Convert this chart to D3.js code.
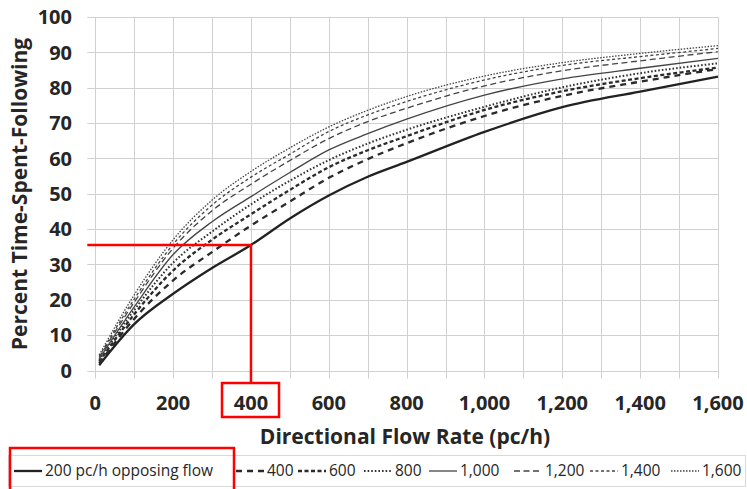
<!DOCTYPE html>
<html>
<head>
<meta charset="utf-8">
<script src="https://cdn.jsdelivr.net/npm/d3@7"></script>
<style>
  body { margin: 0; background: #fff; }
  svg { display: block; font-family: "Open Sans", sans-serif; }
  .tick-label { font-weight: 700; font-size: 20px; fill: #262626; }
  .axis-title { font-weight: 700; font-size: 21px; fill: #262626; }
  .legend-label { font-size: 15.5px; fill: #262626; }
</style>
</head>
<body>
<div id="chart"></div>
<script>
// directional flow rate (pc/h) where values were read
const flow = [10, 100, 200, 300, 400, 500, 600, 700, 800, 1000, 1200, 1400, 1600];

// percent time-spent-following, one array per opposing flow
const ptsf200  = [1.5, 13.1, 21.7, 29.0, 35.5, 43.0, 49.5, 54.8, 59.0, 67.5, 74.5, 78.9, 83.1];
const ptsf400  = [2.0, 14.6, 25.5, 33.5, 41.0, 47.8, 54.5, 59.8, 64.3, 72.0, 77.7, 81.7, 85.3];
const ptsf600  = [2.5, 15.9, 28.3, 37.0, 44.2, 51.1, 57.5, 62.3, 66.3, 73.7, 79.0, 82.7, 85.7];
const ptsf800  = [3.0, 17.1, 30.5, 39.3, 47.0, 53.7, 59.5, 64.2, 68.1, 74.6, 80.1, 84.1, 86.9];
const ptsf1000 = [3.3, 18.0, 32.8, 42.1, 49.2, 56.0, 62.4, 67.0, 71.1, 77.9, 82.5, 85.5, 88.3];
const ptsf1200 = [3.7, 19.3, 34.6, 45.2, 52.7, 59.4, 65.6, 70.4, 74.2, 80.5, 84.8, 87.6, 90.2];
const ptsf1400 = [4.0, 20.2, 35.7, 46.8, 54.7, 61.2, 67.6, 72.3, 76.1, 82.2, 86.3, 88.8, 91.1];
const ptsf1600 = [4.4, 21.4, 37.0, 48.2, 56.3, 63.0, 68.9, 73.6, 77.5, 83.3, 87.1, 89.7, 91.9];

const seriesNames = ['200 pc/h opposing flow', '400', '600', '800', '1,000', '1,200', '1,400', '1,600'];
const seriesValues = [ptsf200, ptsf400, ptsf600, ptsf800, ptsf1000, ptsf1200, ptsf1400, ptsf1600];

const xTicks = [0, 200, 400, 600, 800, 1000, 1200, 1400, 1600];
const yTicks = [0, 10, 20, 30, 40, 50, 60, 70, 80, 90, 100];

// example read-off shown in red
const exampleFlow = 400;
const examplePtsf = 35.5;

// line styles, bottom curve to top curve
const styles = [
    {w: 2.3, c: "#222", dash: null},
    {w: 2.3, c: "#2b2b2b", dash: "6,5"},
    {w: 2.3, c: "#2b2b2b", dash: "4,2.5"},
    {w: 2, c: "#333", dash: "1.6,2"},
    {w: 1.3, c: "#444", dash: null},
    {w: 1.3, c: "#444", dash: "6,3.5"},
    {w: 1.3, c: "#444", dash: "3,2.5"},
    {w: 1.3, c: "#444", dash: "1.5,1.5"}
];
const legendX = [14, 236, 298, 364, 429, 514, 590, 671];

const width = 747;
const height = 489;

const svg = d3.select("#chart").append("svg")
    .attr("width", width)
    .attr("height", height)
    .attr("viewBox", [0, 0, width, height]);

const x = d3.scaleLinear().domain([0, 1600]).range([95.3, 718]);
const y = d3.scaleLinear().domain([0, 100]).range([370.5, 17]);

const gridColor = "#d0d0d0";

// grid (vertical every 100, horizontal every 10)
svg.append("g")
    .selectAll("line")
    .data(d3.range(0, 1601, 100))
    .join("line")
        .attr("x1", d => Math.round(x(d)) + 0.5)
        .attr("x2", d => Math.round(x(d)) + 0.5)
        .attr("y1", y(100))
        .attr("y2", y(0) + 8)
        .attr("stroke", gridColor);

svg.append("g")
    .selectAll("line")
    .data(yTicks)
    .join("line")
        .attr("x1", x(0) - 8)
        .attr("x2", x(1600))
        .attr("y1", d => Math.round(y(d)) + 0.5)
        .attr("y2", d => Math.round(y(d)) + 0.5)
        .attr("stroke", gridColor);

// tick labels
svg.append("g")
    .selectAll("text")
    .data(yTicks)
    .join("text")
        .attr("class", "tick-label")
        .attr("x", 72)
        .attr("y", d => y(d))
        .attr("dy", "0.36em")
        .attr("text-anchor", "end")
        .text(d => d);

svg.append("g")
    .selectAll("text")
    .data(xTicks)
    .join("text")
        .attr("class", "tick-label")
        .attr("x", d => x(d))
        .attr("y", 410)
        .attr("text-anchor", "middle")
        .text(d => d3.format(",")(d));

// axis titles
svg.append("text")
    .attr("class", "axis-title")
    .attr("x", 405)
    .attr("y", 444)
    .attr("text-anchor", "middle")
    .text("Directional Flow Rate (pc/h)");

svg.append("text")
    .attr("class", "axis-title")
    .attr("transform", "translate(27,194) rotate(-90)")
    .attr("text-anchor", "middle")
    .text("Percent Time-Spent-Following");

// curves
const line = d3.line()
    .x((d, i) => x(flow[i]))
    .y(d => y(d))
    .curve(d3.curveMonotoneX);

svg.append("g")
    .selectAll("path")
    .data(seriesValues)
    .join("path")
        .attr("fill", "none")
        .attr("stroke", (d, i) => styles[i].c)
        .attr("stroke-width", (d, i) => styles[i].w)
        .attr("stroke-dasharray", (d, i) => styles[i].dash)
        .attr("d", line);

// red read-off lines and boxes
const red = "#ff0000";
svg.append("path")
    .attr("fill", "none")
    .attr("stroke", red)
    .attr("stroke-width", 2.5)
    .attr("d", `M${x(0) - 8},${y(examplePtsf)}H${x(exampleFlow)}V383`);

svg.append("rect")
    .attr("x", 222).attr("y", 383)
    .attr("width", 57).attr("height", 34)
    .attr("fill", "none")
    .attr("stroke", red)
    .attr("stroke-width", 2.5);

// legend
svg.append("rect")
    .attr("x", 8.5).attr("y", 455.5)
    .attr("width", 737).attr("height", 31)
    .attr("fill", "none")
    .attr("stroke", "#d9d9d9");

const legend = svg.append("g")
    .selectAll("g")
    .data(seriesNames)
    .join("g")
        .attr("transform", (d, i) => `translate(${legendX[i]},471)`);

legend.append("line")
    .attr("x1", 0).attr("x2", 28)
    .attr("stroke", (d, i) => styles[i].c)
    .attr("stroke-width", (d, i) => styles[i].w)
    .attr("stroke-dasharray", (d, i) => styles[i].dash);

legend.append("text")
    .attr("class", "legend-label")
    .attr("x", 31)
    .attr("dy", "0.35em")
    .text(d => d);

svg.append("rect")
    .attr("x", 10).attr("y", 448)
    .attr("width", 224).attr("height", 50)
    .attr("fill", "none")
    .attr("stroke", red)
    .attr("stroke-width", 2.5);
</script>
</body>
</html>
